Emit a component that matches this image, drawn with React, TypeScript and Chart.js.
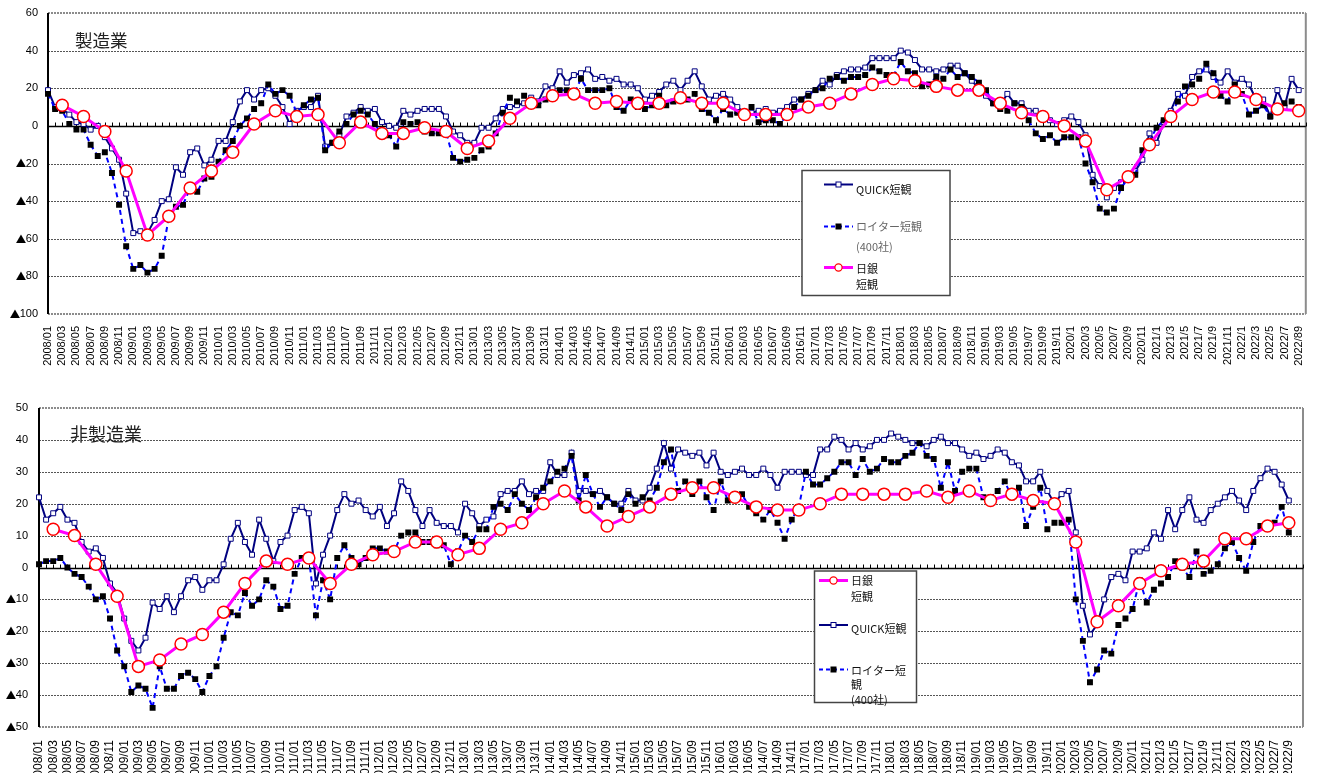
import React, { useEffect, useRef } from 'react';
import { Chart, registerables } from 'chart.js';

Chart.register(...registerables);

const NAVY = '#000080';
const BLUE = '#0000ff';
const MAGENTA = '#ff00ff';
const RED = '#ff0000';
const SANS = '"Liberation Sans", Arial, sans-serif';
const CJK = '"Noto Sans CJK JP", "Noto Sans", sans-serif';

// ---------- tick labels (every other month) ----------
const TOP_TICK_LABELS = [
  '2008/01','2008/03','2008/05','2008/07','2008/09','2008/11',
  '2009/01','2009/03','2009/05','2009/07','2009/09','2009/11',
  '2010/01','2010/03','2010/05','2010/07','2010/09','2010/11',
  '2011/01','2011/03','2011/05','2011/07','2011/09','2011/11',
  '2012/01','2012/03','2012/05','2012/07','2012/09','2012/11',
  '2013/01','2013/03','2013/05','2013/07','2013/09','2013/11',
  '2014/01','2014/03','2014/05','2014/07','2014/09','2014/11',
  '2015/01','2015/03','2015/05','2015/07','2015/09','2015/11',
  '2016/01','2016/03','2016/05','2016/07','2016/09','2016/11',
  '2017/01','2017/03','2017/05','2017/07','2017/09','2017/11',
  '2018/01','2018/03','2018/05','2018/07','2018/09','2018/11',
  '2019/01','2019/03','2019/05','2019/07','2019/09','2019/11',
  '2020/1','2020/3','2020/5','2020/7','2020/9','2020/11',
  '2021/1','2021/3','2021/5','2021/7','2021/9','2021/11',
  '2022/1','2022/3','2022/5','2022/7','2022/89',
];

const BOTTOM_TICK_LABELS = [
  '2008/01','2008/03','2008/05','2008/07','2008/09','2008/11',
  '2009/01','2009/03','2009/05','2009/07','2009/09','2009/11',
  '2010/01','2010/03','2010/05','2010/07','2010/09','2010/11',
  '2011/01','2011/03','2011/05','2011/07','2011/09','2011/11',
  '2012/01','2012/03','2012/05','2012/07','2012/09','2012/11',
  '2013/01','2013/03','2013/05','2013/07','2013/09','2013/11',
  '2014/01','2014/03','2014/05','2014/07','2014/09','2014/11',
  '2015/01','2015/03','2015/05','2015/07','2015/09','2015/11',
  '2016/01','2016/03','2016/05','2014/07','2014/09','2014/11',
  '2017/01','2017/03','2017/05','2017/07','2017/09','2017/11',
  '2018/01','2018/03','2018/05','2018/07','2018/09','2018/11',
  '2019/01','2019/03','2019/05','2019/07','2019/09','2019/11',
  '2020/1','2020/3','2020/5','2020/7','2020/9','2020/11',
  '2021/1','2021/3','2021/5','2021/7','2021/9','2021/11',
  '2022/1','2022/3','2022/5','2022/7','2022/9',
];

// ---------- manufacturing (製造業), monthly 2008/01 - 2022/09 ----------
const MFG_QUICK = [
  19, 10, 9, 6, 2, 1, -2, 0, -6, -12, -18, -36,
  -57, -56, -57, -50, -40, -39, -22, -26, -14, -12, -21, -18,
  -8, -8, 2, 13, 19, 14, 19, 20, 16, 10, 1, 8,
  10, 10, 16, -11, -9, -5, 5, 7, 10, 8, 9, 2,
  0, -1, 8, 6, 8, 9, 9, 9, 5, -3, -5, -9,
  -9, -1, -1, 4, 9, 10, 11, 12, 15, 13, 21, 20,
  29, 23, 27, 28, 30, 25, 26, 24, 25, 22, 22, 20,
  14, 16, 18, 22, 24, 19, 24, 29, 21, 14, 16, 17,
  14, 10, 7, 7, 8, 9, 7, 8, 10, 14, 14, 17,
  19, 24, 22, 27, 29, 30, 30, 31, 36, 36, 36, 36,
  40, 39, 35, 30, 30, 29, 30, 32, 32, 28, 24, 20,
  16, 12, 11, 17, 12, 12, 8, 8, 5, 3, 1, 3,
  5, 2, -5, -26, -32, -38, -33, -30, -27, -24, -18, -4,
  -9, 2, 8, 17, 16, 26, 29, 30, 26, 23, 29, 23,
  25, 22, 14, 14, 5, 19, 10, 25, 19,
];

const MFG_REUTERS = [
  17, 9, 8, 1, -2, -2, -10, -16, -14, -25, -42, -64,
  -76, -74, -78, -76, -69, -49, -43, -42, -33, -35, -28, -27,
  -19, -13, -8, 0, 4, 9, 12, 22, 17, 19, 16, 7,
  11, 14, 15, -13, -9, -3, 1, 6, 8, 6, 1, -5,
  -5, -11, 2, 1, 2, -3, -4, -4, -3, -17, -19, -18,
  -17, -13, -11, -4, 7, 15, 13, 16, 12, 11, 14, 16,
  19, 19, 17, 25, 19, 19, 19, 20, 10, 8, 14, 10,
  9, 11, 16, 11, 13, 15, 14, 17, 9, 7, 3, 9,
  6, 7, 7, 10, 2, 3, 3, 1, 6, 10, 14, 16,
  19, 20, 25, 26, 24, 26, 26, 27, 31, 29, 27, 27,
  34, 29, 28, 21, 22, 26, 25, 30, 26, 28, 26, 23,
  19, 12, 9, 8, 12, 10, 3, -4, -7, -5, -9, -6,
  -6, -6, -20, -30, -44, -46, -44, -33, -28, -26, -13, -8,
  -1, 3, 6, 13, 21, 22, 25, 33, 28, 16, 13, 22,
  17, 6, 8, 11, 5, 9, 12, 13, 10,
];

// BoJ Tankan, quarterly 2008/03 - 2022/09
const MFG_TANKAN = [
  11, 5, -3, -24,
  -58, -48, -33, -24,
  -14, 1, 8, 5,
  6, -9, 2, -4,
  -4, -1, -3, -12,
  -8, 4, 12, 16,
  17, 12, 13, 12,
  12, 15, 12, 12,
  6, 6, 6, 10,
  12, 17, 22, 25,
  24, 21, 19, 19,
  12, 7, 5, 0,
  -8, -34, -27, -10,
  5, 14, 18, 18,
  14, 9, 8,
];

// ---------- non-manufacturing (非製造業) ----------
const NONMFG_QUICK = [
  22, 15, 17, 19, 15, 14, 8, 5, 6, 3, -5, -8,
  -16, -23, -26, -22, -11, -13, -9, -14, -9, -4, -3, -7,
  -4, -4, 1, 9, 14, 8, 4, 15, 9, 2, 8, 10,
  18, 19, 17, -5, 4, 10, 18, 23, 20, 21, 18, 16,
  19, 13, 17, 27, 24, 18, 13, 18, 14, 13, 13, 11,
  20, 17, 13, 15, 16, 23, 24, 24, 27, 23, 24, 24,
  33, 29, 29, 36, 24, 24, 23, 24, 22, 20, 20, 24,
  21, 21, 25, 31, 39, 31, 37, 36, 35, 36, 32, 36,
  30, 29, 30, 31, 29, 29, 31, 29, 25, 30, 30, 30,
  29, 29, 37, 37, 41, 40, 37, 39, 37, 38, 40, 40,
  42, 41, 40, 39, 39, 38, 40, 41, 39, 39, 37, 35,
  36, 34, 35, 37, 36, 33, 32, 27, 27, 30, 24, 20,
  23, 24, 11, -12, -21, -18, -10, -3, -2, -4, 5, 5,
  6, 11, 9, 18, 12, 18, 22, 15, 14, 18, 20, 22,
  24, 21, 18, 24, 28, 31, 30, 26, 21,
];

const NONMFG_REUTERS = [
  1, 2, 2, 3, 0, -2, -3, -6, -10, -9, -16, -26,
  -31, -39, -37, -38, -44, -31, -38, -38, -34, -33, -35, -39,
  -34, -31, -22, -14, -15, -8, -12, -10, -4, -6, -13, -12,
  -2, 3, 3, -15, -4, -10, 3, 7, 3, 1, 3, 6,
  6, 5, 5, 10, 11, 11, 8, 8, 7, 7, 1, 5,
  10, 8, 12, 12, 19, 20, 18, 23, 20, 18, 22, 25,
  27, 30, 31, 35, 21, 29, 23, 19, 22, 20, 18, 23,
  20, 22, 21, 25, 33, 37, 24, 27, 23, 27, 22, 18,
  27, 21, 23, 23, 19, 17, 15, 18, 14, 9, 15, 19,
  30, 26, 26, 28, 30, 33, 33, 29, 34, 30, 31, 34,
  33, 33, 35, 36, 39, 35, 34, 25, 33, 24, 30, 31,
  31, 22, 22, 24, 27, 22, 25, 13, 19, 25, 12, 14,
  14, 15, -10, -23, -36, -32, -26, -27, -18, -16, -13, -4,
  -11, -7, -5, -3, 2, 0, -3, 5, -2, -1, 1, 6,
  8, 3, -1, 8, 13, 13, 14, 19, 11,
];

const NONMFG_TANKAN = [
  12, 10, 1, -9,
  -31, -29, -24, -21,
  -14, -5, 2, 1,
  3, -5, 1, 4,
  5, 8, 8, 4,
  6, 12, 14, 20,
  24, 19, 13, 16,
  19, 23, 25, 25,
  22, 19, 18, 18,
  20, 23, 23, 23,
  23, 24, 22, 24,
  21, 23, 21, 20,
  8, -17, -12, -5,
  -1, 1, 2, 9,
  9, 13, 14,
];

// ---------- helpers ----------
type Kind = 'quick' | 'reuters' | 'tankan';
type LegendItem = { kind: Kind; lineY: number; texts: { t: string; y: number; color: string }[] };
type Spec = {
  nCats: number;
  ticks: string[];
  quick: number[];
  reuters: number[];
  tankan: number[];
  yMin: number;
  yMax: number;
  step: number;
  yWidth: number;
  yPad: number;
  xHeight: number;
  xFont: number;
  xPad: number;
  padTop: number;
  padRight: number;
  title: string;
  titleX: number;
  titleY: number;
  titleSize: number;
  legendBox: { x1: number; y1: number; x2: number; y2: number };
  legendLineX1: number;
  legendLineX2: number;
  legendTextX: number;
  legend: LegendItem[];
};

function buildCategories(n: number, ticks: string[]): string[] {
  const out: string[] = [];
  for (let i = 0; i < n; i++) {
    out.push(i % 2 === 0 && ticks[i / 2] !== undefined ? ticks[i / 2] : '');
  }
  return out;
}

function buildTankan(n: number, q: number[]): (number | null)[] {
  const out: (number | null)[] = new Array(n).fill(null);
  q.forEach((v, k) => {
    out[2 + 3 * k] = v;
  });
  return out;
}

function drawMarker(ctx: CanvasRenderingContext2D, kind: Kind, x: number, y: number) {
  ctx.save();
  ctx.setLineDash([]);
  if (kind === 'quick') {
    ctx.fillStyle = '#fff';
    ctx.strokeStyle = NAVY;
    ctx.lineWidth = 1;
    ctx.fillRect(x - 2.5, y - 2.5, 5, 5);
    ctx.strokeRect(x - 2.5, y - 2.5, 5, 5);
  } else if (kind === 'reuters') {
    ctx.fillStyle = '#000';
    ctx.fillRect(x - 3, y - 3, 6, 6);
  } else {
    ctx.beginPath();
    ctx.arc(x, y, 3.6, 0, Math.PI * 2);
    ctx.fillStyle = '#fff';
    ctx.fill();
    ctx.strokeStyle = RED;
    ctx.lineWidth = 1.2;
    ctx.stroke();
  }
  ctx.restore();
}

function makeDecorPlugin(spec: Spec) {
  return {
    id: 'decor',
    beforeDatasetsDraw(chart: any) {
      const { ctx, chartArea } = chart;
      const { left, right, top, bottom } = chartArea;
      const ys = chart.scales.y;
      const xs = chart.scales.x;
      const hline = (py: number) => {
        ctx.beginPath();
        ctx.moveTo(left, py);
        ctx.lineTo(right, py);
        ctx.stroke();
      };
      ctx.save();
      // dotted grid
      ctx.lineWidth = 1;
      ctx.strokeStyle = '#555';
      ctx.setLineDash([2, 1]);
      for (let v = spec.yMin + spec.step; v < spec.yMax; v += spec.step) {
        if (v === 0) continue;
        hline(Math.round(ys.getPixelForValue(v)) + 0.5);
      }
      // top / bottom frame
      ctx.lineWidth = 2;
      ctx.strokeStyle = '#8c8c8c';
      ctx.setLineDash([2, 1]);
      hline(Math.round(top));
      hline(Math.round(bottom));
      ctx.setLineDash([]);
      // right frame
      ctx.beginPath();
      ctx.moveTo(right, top);
      ctx.lineTo(right, bottom);
      ctx.stroke();
      // zero line
      const y0 = Math.round(ys.getPixelForValue(0)) + 0.5;
      ctx.strokeStyle = '#000';
      ctx.lineWidth = 1.5;
      hline(y0);
      ctx.lineWidth = 1;
      for (let i = 0; i < spec.nCats; i++) {
        const px = Math.round(xs.getPixelForValue(i)) + 0.5;
        ctx.beginPath();
        ctx.moveTo(px, y0 - 4);
        ctx.lineTo(px, y0);
        ctx.stroke();
      }
      // left axis
      ctx.lineWidth = 2;
      ctx.beginPath();
      ctx.moveTo(left, top);
      ctx.lineTo(left, bottom);
      ctx.stroke();

      // y tick labels (▲ for negatives)
      ctx.fillStyle = '#000';
      ctx.textBaseline = 'middle';
      const xr = left - spec.yPad;
      for (let v = spec.yMin; v <= spec.yMax; v += spec.step) {
        const py = ys.getPixelForValue(v);
        const digits = String(Math.abs(v));
        ctx.font = `11px ${SANS}`;
        ctx.textAlign = 'right';
        ctx.fillText(digits, xr, py);
        if (v < 0) {
          const w = ctx.measureText(digits).width;
          ctx.font = `10.5px ${CJK}`;
          ctx.fillText('▲', xr - w + 0.5, py);
        }
      }
      ctx.restore();
    },
    afterDatasetsDraw(chart: any) {
      const { ctx } = chart;
      ctx.save();
      // title
      ctx.fillStyle = '#222';
      ctx.font = `${spec.titleSize}px ${CJK}`;
      ctx.textAlign = 'left';
      ctx.textBaseline = 'middle';
      ctx.fillText(spec.title, spec.titleX, spec.titleY);
      // legend box
      const b = spec.legendBox;
      ctx.fillStyle = '#fff';
      ctx.fillRect(b.x1, b.y1, b.x2 - b.x1, b.y2 - b.y1);
      ctx.strokeStyle = '#444';
      ctx.lineWidth = 1.5;
      ctx.strokeRect(b.x1, b.y1, b.x2 - b.x1, b.y2 - b.y1);
      const midX = (spec.legendLineX1 + spec.legendLineX2) / 2;
      for (const it of spec.legend) {
        ctx.beginPath();
        if (it.kind === 'quick') {
          ctx.strokeStyle = NAVY;
          ctx.lineWidth = 2;
          ctx.setLineDash([]);
        } else if (it.kind === 'reuters') {
          ctx.strokeStyle = BLUE;
          ctx.lineWidth = 2;
          ctx.setLineDash([4, 3]);
        } else {
          ctx.strokeStyle = MAGENTA;
          ctx.lineWidth = 3;
          ctx.setLineDash([]);
        }
        ctx.moveTo(spec.legendLineX1, it.lineY);
        ctx.lineTo(spec.legendLineX2, it.lineY);
        ctx.stroke();
        ctx.setLineDash([]);
        drawMarker(ctx, it.kind, midX, it.lineY);
        ctx.font = `11px ${CJK}`;
        ctx.textAlign = 'left';
        ctx.textBaseline = 'middle';
        for (const t of it.texts) {
          ctx.fillStyle = t.color;
          ctx.fillText(t.t, spec.legendTextX, t.y);
        }
      }
      ctx.restore();
    },
  };
}

function buildConfig(spec: Spec): any {
  const labels = buildCategories(spec.nCats, spec.ticks);
  return {
    type: 'line',
    data: {
      labels,
      datasets: [
        {
          label: 'QUICK短観',
          data: spec.quick,
          order: 3,
          borderColor: NAVY,
          borderWidth: 2,
          pointStyle: 'rect',
          pointRadius: 3.5,
          pointBackgroundColor: '#fff',
          pointBorderColor: NAVY,
          pointBorderWidth: 1,
          tension: 0,
          fill: false,
        },
        {
          label: 'ロイター短観(400社)',
          data: spec.reuters,
          order: 2,
          borderColor: BLUE,
          borderWidth: 2,
          borderDash: [5, 4],
          pointStyle: 'rect',
          pointRadius: 4.2,
          pointBackgroundColor: '#000',
          pointBorderColor: '#000',
          pointBorderWidth: 0,
          tension: 0,
          fill: false,
        },
        {
          label: '日銀短観',
          data: buildTankan(spec.nCats, spec.tankan),
          order: 1,
          spanGaps: true,
          borderColor: MAGENTA,
          borderWidth: 3,
          pointStyle: 'circle',
          pointRadius: 6,
          pointBackgroundColor: '#fff',
          pointBorderColor: RED,
          pointBorderWidth: 1.5,
          tension: 0,
          fill: false,
        },
      ],
    },
    options: {
      animation: false,
      responsive: false,
      devicePixelRatio: 1,
      layout: { padding: { left: 0, right: spec.padRight, top: spec.padTop, bottom: 0 } },
      plugins: {
        legend: { display: false },
        tooltip: { enabled: false },
        title: { display: false },
      },
      scales: {
        x: {
          type: 'category',
          offset: false,
          grid: { display: false },
          border: { display: false },
          ticks: {
            autoSkip: false,
            maxRotation: 90,
            minRotation: 90,
            padding: spec.xPad,
            color: '#000',
            font: { family: SANS, size: spec.xFont },
          },
          afterFit: (s: any) => {
            s.height = spec.xHeight;
          },
        },
        y: {
          min: spec.yMin,
          max: spec.yMax,
          grid: { display: false },
          border: { display: false },
          ticks: { display: false, stepSize: spec.step },
          afterFit: (s: any) => {
            s.width = spec.yWidth;
          },
        },
      },
    },
    plugins: [makeDecorPlugin(spec)],
  };
}

const TOP_SPEC: Spec = {
  nCats: 178,
  ticks: TOP_TICK_LABELS,
  quick: MFG_QUICK,
  reuters: MFG_REUTERS,
  tankan: MFG_TANKAN,
  yMin: -100,
  yMax: 60,
  step: 20,
  yWidth: 48,
  yPad: 10,
  xHeight: 76,
  xFont: 11,
  xPad: 4,
  padTop: 13,
  padRight: 9,
  title: '製造業',
  titleX: 75,
  titleY: 40,
  titleSize: 17.5,
  legendBox: { x1: 802, y1: 170.5, x2: 950, y2: 295.5 },
  legendLineX1: 824,
  legendLineX2: 853,
  legendTextX: 856,
  legend: [
    { kind: 'quick', lineY: 184.5, texts: [{ t: 'QUICK短観', y: 190, color: '#111' }] },
    {
      kind: 'reuters',
      lineY: 226.5,
      texts: [
        { t: 'ロイター短観', y: 227, color: '#666' },
        { t: '(400社)', y: 247, color: '#666' },
      ],
    },
    {
      kind: 'tankan',
      lineY: 267.5,
      texts: [
        { t: '日銀', y: 269, color: '#111' },
        { t: '短観', y: 285, color: '#111' },
      ],
    },
  ],
};

const BOTTOM_SPEC: Spec = {
  nCats: 179,
  ticks: BOTTOM_TICK_LABELS,
  quick: NONMFG_QUICK,
  reuters: NONMFG_REUTERS,
  tankan: NONMFG_TANKAN,
  yMin: -50,
  yMax: 50,
  step: 10,
  yWidth: 39,
  yPad: 11,
  xHeight: 46,
  xFont: 12,
  xPad: 5,
  padTop: 18,
  padRight: 20,
  title: '非製造業',
  titleX: 70,
  titleY: 44.5,
  titleSize: 18,
  legendBox: { x1: 814.5, y1: 181, x2: 916.5, y2: 312.5 },
  legendLineX1: 819,
  legendLineX2: 848,
  legendTextX: 851,
  legend: [
    {
      kind: 'tankan',
      lineY: 190.5,
      texts: [
        { t: '日銀', y: 191, color: '#111' },
        { t: '短観', y: 207, color: '#111' },
      ],
    },
    { kind: 'quick', lineY: 235, texts: [{ t: 'QUICK短観', y: 239, color: '#111' }] },
    {
      kind: 'reuters',
      lineY: 279.5,
      texts: [
        { t: 'ロイター短', y: 281, color: '#111' },
        { t: '観', y: 295, color: '#111' },
        { t: '(400社)', y: 310, color: '#111' },
      ],
    },
  ],
};

export default function App() {
  const topRef = useRef<HTMLCanvasElement | null>(null);
  const botRef = useRef<HTMLCanvasElement | null>(null);

  useEffect(() => {
    const c1 = new Chart(topRef.current as HTMLCanvasElement, buildConfig(TOP_SPEC));
    const c2 = new Chart(botRef.current as HTMLCanvasElement, buildConfig(BOTTOM_SPEC));
    return () => {
      c1.destroy();
      c2.destroy();
    };
  }, []);

  return (
    <div
      style={{
        position: 'fixed',
        left: 0,
        top: 0,
        width: 1323,
        height: 773,
        background: '#fff',
        overflow: 'hidden',
      }}
    >
      <canvas
        ref={topRef}
        width={1323}
        height={390}
        style={{ position: 'absolute', left: 0, top: 0, width: 1323, height: 390 }}
      />
      <canvas
        ref={botRef}
        width={1323}
        height={383}
        style={{ position: 'absolute', left: 0, top: 390, width: 1323, height: 383 }}
      />
    </div>
  );
}
